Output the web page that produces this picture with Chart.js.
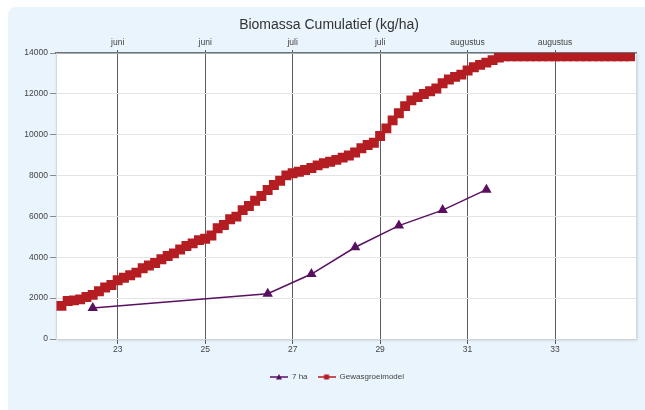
<!DOCTYPE html>
<html>
<head>
<meta charset="utf-8">
<script src="https://cdn.jsdelivr.net/npm/chart.js@4.4.1/dist/chart.umd.min.js"></script>
<style>
  html, body { margin: 0; padding: 0; background: #fff; }
  body { width: 645px; height: 410px; position: relative; overflow: hidden; }
  .panel {
    position: absolute; left: 8px; top: 7px; width: 637px; height: 403px;
    background: #eaf4fd; border-radius: 8px 0 0 0;
  }
  canvas { display: block; }
</style>
</head>
<body>
<div class="panel"><canvas id="biomassChart" width="637" height="403"></canvas></div>
<script>
// x axis is in week numbers
const weekTicks = [23, 25, 27, 29, 31, 33];
const monthLabels = ['juni', 'juni', 'juli', 'juli', 'augustus', 'augustus'];
const yTicks = [0, 2000, 4000, 6000, 8000, 10000, 12000, 14000];

// field measurements "7 ha"
const fieldWeeks = [22.43, 26.43, 27.43, 28.43, 29.43, 30.43, 31.43];
const fieldValues = [1520, 2220, 3180, 4490, 5550, 6310, 7310];

// crop growth model, one value per day starting at week 21 + 5/7
const modelFirstWeek = 21 + 5 / 7;
const modelValues = [
  1620, 1860, 1890, 1940, 2060, 2160, 2340, 2520, 2640, 2880,
  3000, 3120, 3250, 3460, 3600, 3720, 3900, 4060, 4190, 4380,
  4550, 4680, 4840, 4910, 5070, 5420, 5580, 5860, 5990, 6310,
  6510, 6770, 7000, 7290, 7540, 7750, 8010, 8110, 8190, 8270,
  8370, 8500, 8600, 8680, 8770, 8880, 8980, 9130, 9340, 9500,
  9610, 9940, 10310, 10700, 11050, 11400, 11680, 11840, 11990, 12130,
  12260, 12520, 12700, 12830, 12940, 13140, 13300, 13420, 13530, 13650,
  13780, 13840, 13840, 13840, 13840, 13840, 13840, 13840, 13840, 13840,
  13840, 13840, 13840, 13840, 13840, 13840, 13840, 13840, 13840, 13840,
  13840, 13840
];

const purple = '#5a1061';
const red = '#b41d22';
const font = 'Liberation Sans, Arial, sans-serif';

function legendSwatch(color, style) {
  const c = document.createElement('canvas');
  c.width = 18; c.height = 8;
  const g = c.getContext('2d');
  g.strokeStyle = color;
  g.lineWidth = 1.5;
  g.beginPath(); g.moveTo(0, 4); g.lineTo(18, 4); g.stroke();
  g.fillStyle = color;
  if (style === 'rect') {
    g.fillRect(6.5, 1.5, 5, 5);
  } else {
    g.beginPath(); g.moveTo(9, 1); g.lineTo(12, 6.5); g.lineTo(6, 6.5); g.closePath(); g.fill();
  }
  return c;
}
const swatches = [legendSwatch(purple, 'triangle'), legendSwatch(red, 'rect')];

// white plot area with a faint shadow, legend nudged a bit to the right
const plotBackground = {
  id: 'plotBackground',
  afterLayout(chart) {
    if (chart.legend) {
      chart.legend.left += 8;
      chart.legend.right += 8;
    }
  },
  beforeDraw(chart) {
    const { ctx, chartArea: a } = chart;
    ctx.save();
    ctx.shadowColor = 'rgba(0,0,0,0.18)';
    ctx.shadowBlur = 3;
    ctx.shadowOffsetX = 1;
    ctx.shadowOffsetY = 1;
    ctx.fillStyle = '#fff';
    ctx.fillRect(a.left, a.top, a.right - a.left, a.bottom - a.top);
    ctx.restore();
  }
};

const setTicks = (values) => (scale) => {
  scale.ticks = values.map((v) => ({ value: v }));
};

const ctx = document.getElementById('biomassChart').getContext('2d');
new Chart(ctx, {
  type: 'line',
  data: {
    datasets: [
      {
        label: '7 ha',
        data: fieldWeeks.map((w, i) => ({ x: w, y: fieldValues[i] })),
        borderColor: purple,
        backgroundColor: purple,
        borderWidth: 1.5,
        pointStyle: 'triangle',
        pointRadius: 4.5,
        pointHoverRadius: 4.5,
      },
      {
        label: 'Gewasgroeimodel',
        data: modelValues.map((v, i) => ({ x: modelFirstWeek + i / 7, y: v })),
        borderColor: red,
        backgroundColor: red,
        borderWidth: 2,
        pointStyle: 'rect',
        pointRadius: 5.6,
        pointHoverRadius: 5.6,
      },
    ],
  },
  options: {
    responsive: false,
    animation: false,
    layout: { padding: { left: 14, right: 9, top: 0, bottom: 19 } },
    plugins: {
      title: {
        display: true,
        text: 'Biomassa Cumulatief (kg/ha)',
        color: '#333',
        font: { family: font, size: 14, weight: 'normal' },
        padding: { top: 10, bottom: 0 },
      },
      legend: {
        position: 'bottom',
        labels: {
          usePointStyle: true,
          pointStyleWidth: 18,
          color: '#444',
          padding: 10,
          font: { family: font, size: 8 },
          generateLabels(chart) {
            const items = Chart.defaults.plugins.legend.labels.generateLabels(chart);
            items.forEach((it, i) => { it.pointStyle = swatches[i]; });
            return items;
          },
        },
      },
      tooltip: { enabled: false },
    },
    scales: {
      x: {
        type: 'linear',
        position: 'bottom',
        min: 21.59,
        max: 34.85,
        afterBuildTicks: setTicks(weekTicks),
        afterFit(scale) { scale.height = 24; },
        grid: { color: '#5c5c5c', tickLength: 5, lineWidth: 1 },
        border: { color: '#cfd3d6' },
        ticks: { color: '#444', padding: 0.5, font: { family: font, size: 8.5 } },
      },
      xTop: {
        type: 'linear',
        position: 'top',
        min: 21.59,
        max: 34.85,
        afterBuildTicks: setTicks(weekTicks),
        afterFit(scale) { scale.height = 19.2; },
        grid: { drawOnChartArea: false, color: '#5c5c5c', tickLength: 3 },
        border: { color: '#6b757c', width: 1.5 },
        ticks: {
          color: '#444', padding: 2, font: { family: font, size: 8.5 },
          callback: (v, i) => monthLabels[i],
        },
      },
      y: {
        min: 0,
        max: 14000,
        afterBuildTicks: setTicks(yTicks),
        afterFit(scale) { scale.width = 34; },
        grid: { color: '#e4e4e4', tickColor: '#8a8a8a', tickLength: 6 },
        border: { color: '#d6d9dc' },
        ticks: {
          color: '#444', padding: 2, font: { family: font, size: 8.5 },
          callback: (v) => String(v),
        },
      },
    },
  },
  plugins: [plotBackground],
});
</script>
</body>
</html>
